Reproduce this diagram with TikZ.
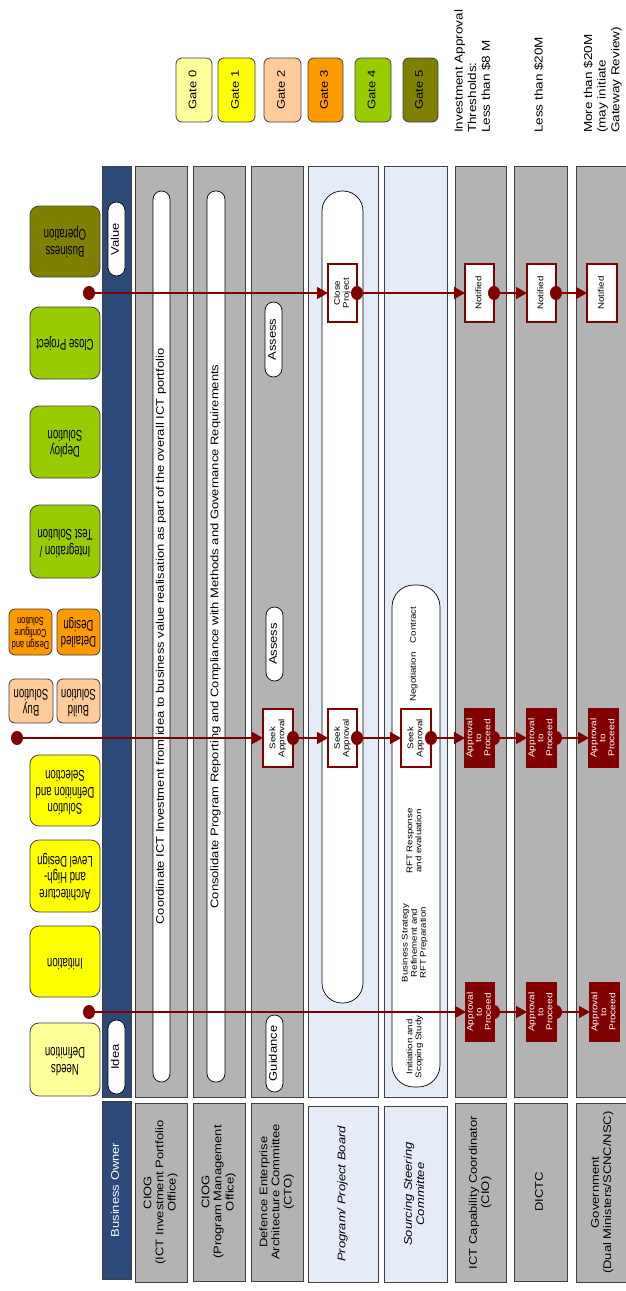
\documentclass[tikz,border=0pt]{standalone}
\usepackage{fontspec}
\setmainfont{Liberation Sans}
\usepackage{graphicx}
\usetikzlibrary{arrows.meta}

\definecolor{lanegray}{HTML}{B3B3B3}
\definecolor{lanelight}{HTML}{E6ECF7}
\definecolor{ownerblue}{HTML}{2B4A7A}
\definecolor{appred}{HTML}{800000}
\definecolor{gatezero}{HTML}{FFFF99}
\definecolor{gateone}{HTML}{FFFF00}
\definecolor{gatetwo}{HTML}{FFCC99}
\definecolor{gatethree}{HTML}{FF9900}
\definecolor{gatefour}{HTML}{99CC00}
\definecolor{gatefive}{HTML}{808000}

\pgfdeclarelayer{base}
\pgfdeclarelayer{flowlayer}
\pgfdeclarelayer{front}
\pgfsetlayers{base,flowlayer,main,front}

% text turned to read upwards, slightly condensed across its lines
\newcommand\up[1]{\rotatebox{90}{\scalebox{1}[0.85]{\begin{tabular}{@{}c@{}}#1\end{tabular}}}}
\newcommand\upl[1]{\rotatebox{90}{\scalebox{1}[0.85]{\begin{tabular}{@{}l@{}}#1\end{tabular}}}}
% text turned upside down, condensed along its lines
\newcommand\flip[1]{\rotatebox{180}{\scalebox{0.62}[1]{\begin{tabular}{@{}c@{}}#1\end{tabular}}}}
\newcommand\flipsmall[1]{\rotatebox{180}{\scalebox{0.64}[1]{\begin{tabular}{@{}c@{}}#1\end{tabular}}}}
% box given by style, name, left, right, top and bottom edges, text
\newcommand\edgebox[7]{\node[#1, minimum width={(#4)-(#3)}, minimum height={(#6)-(#5)}] (#2) at ({((#3)+(#4))/2},{((#5)+(#6))/2}) {#7};}

\tikzset{
  lane/.style={draw=black!75, line width=0.8pt, inner sep=0pt, outer sep=0pt},
  graylane/.style={lane, fill=lanegray},
  lightlane/.style={lane, fill=lanelight},
  ownerlane/.style={lane, fill=ownerblue},
  headtext/.style={font=\fontsize{13}{14.3}\selectfont},
  italichead/.style={font=\fontsize{13}{14.3}\selectfont\itshape},
  gatebox/.style={draw=black!75, line width=0.8pt, rounded corners=6pt, inner sep=0pt, font=\fontsize{13}{14}\selectfont},
  phasebox/.style={draw=black!75, line width=0.8pt, rounded corners=9pt, inner sep=0pt, font=\fontsize{15.5}{16.5}\selectfont},
  smallphase/.style={phasebox, rounded corners=6pt},
  pill/.style={draw=black, fill=white, line width=0.7pt, inner sep=0pt, rounded corners=8.5pt, font=\fontsize{13}{14}\selectfont},
  widepill/.style={pill, rounded corners=20pt},
  openbox/.style={draw=appred, fill=white, line width=1.3pt, inner sep=0pt, outer sep=0pt, font=\fontsize{9.7}{10.7}\selectfont},
  passbox/.style={draw=appred, fill=appred, text=white, line width=1.3pt, inner sep=0pt, outer sep=0pt, font=\fontsize{10}{10.6}\selectfont},
  flow/.style={draw=appred, line width=1.4pt, -{Triangle[length=11pt,width=12pt]}},
  knob/.style={fill=appred},
  note/.style={inner sep=0pt, font=\fontsize{9.7}{10.7}\selectfont},
  threshold/.style={anchor=south, inner sep=0pt, font=\fontsize{13.5}{16}\selectfont},
}

\begin{document}
\begin{tikzpicture}[x=1pt,y=-1pt]
\useasboundingbox (0,0) rectangle (625,1291);
\clip (0,0) rectangle (625,1291);

\begin{pgfonlayer}{base}
\fill[white] (0,0) rectangle (625,1291);

% gate legend
\edgebox{gatebox, fill=gatezero}{gate0}{176}{212}{58}{122}{\up{Gate 0}}
\edgebox{gatebox, fill=gateone}{gate1}{218}{255}{58}{122}{\up{Gate 1}}
\edgebox{gatebox, fill=gatetwo}{gate2}{264}{301}{58}{122}{\up{Gate 2}}
\edgebox{gatebox, fill=gatethree}{gate3}{308}{343}{58}{122}{\up{Gate 3}}
\edgebox{gatebox, fill=gatefour}{gate4}{355}{391}{58}{122}{\up{Gate 4}}
\edgebox{gatebox, fill=gatefive}{gate5}{403}{438}{58}{122}{\up{Gate 5}}

% approval thresholds
\node[threshold] (thrlow) at (473.5,133) {\upl{Investment Approval\\Thresholds:\\Less than \$8 M}};
\node[threshold] (thrmid) at (540,133) {\upl{Less than \$20M}};
\node[threshold] (thrhigh) at (603,133) {\upl{More than \$20M\\(may initiate\\Gateway Review)}};

% lifecycle phases
\edgebox{phasebox, fill=gatezero}{needs}{30}{100}{1023}{1096}{\flip{Needs\\Definition}}
\edgebox{phasebox, fill=gateone}{initiation}{30}{100}{926}{997}{\flip{Initiation}}
\edgebox{phasebox, fill=gateone}{archdesign}{30}{100}{840}{912}{\flip{Architecture\\and High-\\Level Design}}
\edgebox{phasebox, fill=gateone}{soldef}{30}{100}{755}{826}{\flip{Solution\\Definition and\\Selection}}
\edgebox{smallphase, fill=gatetwo}{buy}{9}{53}{679}{723}{\flip{Buy\\Solution}}
\edgebox{smallphase, fill=gatetwo}{build}{57}{100}{679}{723}{\flip{Build\\Solution}}
\edgebox{smallphase, fill=gatethree, font=\fontsize{11.5}{11.5}\selectfont}{configure}{9}{52}{609}{655}{\flipsmall{Design and\\Configure\\Solution}}
\edgebox{smallphase, fill=gatethree}{detailed}{57}{100}{609}{655}{\flip{Detailed\\Design}}
\edgebox{phasebox, fill=gatefour}{integration}{30}{100}{505}{578}{\flip{Integration /\\Test Solution}}
\edgebox{phasebox, fill=gatefour}{deploy}{30}{100}{406}{478}{\flip{Deploy\\Solution}}
\edgebox{phasebox, fill=gatefour}{closeproj}{30}{100}{307}{379}{\flip{Close Project}}
\edgebox{phasebox, fill=gatefive}{busop}{30}{100}{206}{277}{\flip{Business\\Operation}}

% swim lanes and their headers
\edgebox{ownerlane}{ownerbody}{102}{131}{166}{1097}{}
\edgebox{ownerlane, text=white, headtext}{ownerhead}{102}{131}{1101}{1279}{\up{Business Owner}}
\edgebox{graylane}{portfoliobody}{135}{187}{166}{1097}{}
\edgebox{graylane, headtext}{portfoliohead}{135}{187}{1103}{1282}{\up{CIOG\\(ICT Investment Portfolio\\Office)}}
\edgebox{graylane}{pmobody}{193}{245}{166}{1097}{}
\edgebox{graylane, headtext}{pmohead}{193}{245}{1103}{1281}{\up{CIOG\\(Program Management\\Office)}}
\edgebox{graylane}{archbody}{251}{303}{166}{1097}{}
\edgebox{graylane, headtext}{archhead}{251}{303}{1103}{1281}{\up{Defence Enterprise\\Architecture Committee\\(CTO)}}
\edgebox{lightlane}{boardbody}{308}{378}{166}{1097}{}
\edgebox{lightlane, italichead}{boardhead}{308}{378}{1106}{1282}{\up{Program/ Project Board}}
\edgebox{lightlane}{sourcebody}{384}{447}{166}{1097}{}
\edgebox{lightlane, italichead}{sourcehead}{384}{447}{1106}{1282}{\up{Sourcing Steering\\Committee}}
\edgebox{graylane}{capbody}{455}{506}{166}{1097}{}
\edgebox{graylane, headtext}{caphead}{455}{506}{1103}{1282}{\up{ICT Capability Coordinator\\(CIO)}}
\edgebox{graylane}{dictcbody}{514}{567}{166}{1097}{}
\edgebox{graylane, headtext}{dictchead}{514}{567}{1103}{1281}{\up{DICTC}}
\edgebox{graylane}{govbody}{576}{629}{166}{1097}{}
\edgebox{graylane, headtext}{govhead}{576}{629}{1103}{1282}{\up{Government\\(Dual Ministers/SCNC/NSC)}}

% activities inside the lanes
\edgebox{pill}{idea}{108}{125}{1020}{1094}{\up{Idea}}
\edgebox{pill}{value}{108}{125}{202}{276}{\up{Value}}
\edgebox{pill}{coordinate}{153}{170}{191}{1082}{\up{Coordinate ICT Investment from idea to business value realisation as part of the overall ICT portfolio}}
\edgebox{pill}{consolidate}{207}{225}{191}{1082}{\up{Consolidate Program Reporting and Compliance with Methods and Governance Requirements}}
\edgebox{pill}{guidance}{266}{283}{1015}{1092}{\up{Guidance}}
\edgebox{pill}{assessmid}{266}{283}{607}{681}{\up{Assess}}
\edgebox{pill}{assesstop}{265}{282}{302}{377}{\up{Assess}}
\edgebox{widepill}{boardpill}{322}{363}{191}{1003}{}
\edgebox{widepill, rounded corners=22pt}{sourcepill}{392}{440}{585}{1087}{}

\node[note] (scoping) at (415,1047) {\up{Initiation and\\Scoping Study}};
\node[note] (strategy) at (415,943) {\up{Business Strategy\\Refinement and\\RFT Preparation}};
\node[note] (response) at (415,841) {\up{RFT Response\\and evaluation}};
\node[note] (negotiation) at (414,677) {\up{Negotiation}};
\node[note] (contract) at (414,625) {\up{Contract}};
\end{pgfonlayer}

% decision points
\edgebox{openbox}{boardclose}{328}{357}{264}{322}{\up{Close\\Project}}
\edgebox{openbox}{capnote}{465}{494}{264}{322}{\up{Notified}}
\edgebox{openbox}{dictcnote}{527}{556}{264}{322}{\up{Notified}}
\edgebox{openbox}{govnote}{587}{617}{264}{322}{\up{Notified}}

\edgebox{openbox}{archseek}{263}{293}{709}{767}{\up{Seek\\Approval}}
\edgebox{openbox}{boardseek}{328}{357}{709}{767}{\up{Seek\\Approval}}
\edgebox{openbox}{sourceseek}{401}{431}{709}{767}{\up{Seek\\Approval}}
\edgebox{passbox}{capmid}{465}{494}{709}{767}{\up{Approval\\to\\Proceed}}
\edgebox{passbox}{dictcmid}{527}{556}{709}{767}{\up{Approval\\to\\Proceed}}
\edgebox{passbox}{govmid}{589}{618}{709}{767}{\up{Approval\\to\\Proceed}}

\edgebox{passbox}{caplow}{466}{494}{983}{1041}{\up{Approval\\to\\Proceed}}
\edgebox{passbox}{dictclow}{527}{556}{983}{1041}{\up{Approval\\to\\Proceed}}
\edgebox{passbox}{govlow}{590}{619}{983}{1041}{\up{Approval\\to\\Proceed}}

% approval flows
\coordinate (topstart) at (89,293);
\coordinate (midstart) at (17,738);
\coordinate (lowstart) at (89,1012);

\begin{pgfonlayer}{flowlayer}
\draw[flow] (topstart) -- (boardclose.west);
\draw[flow] (boardclose.east) -- (capnote.west);
\draw[flow] (capnote.east) -- (dictcnote.west);
\draw[flow] (dictcnote.east) -- (govnote.west);

\draw[flow] (midstart) -- (archseek.west);
\draw[flow] (archseek.east) -- (boardseek.west);
\draw[flow] (boardseek.east) -- (sourceseek.west);
\draw[flow] (sourceseek.east) -- (capmid.west);
\draw[flow] (capmid.east) -- (dictcmid.west);
\draw[flow] (dictcmid.east) -- (govmid.west);

\draw[flow] (lowstart) -- (caplow.west);
\draw[flow] (caplow.east) -- (dictclow.west);
\draw[flow] (dictclow.east) -- (govlow.west);

% knobs on filled boxes sit behind them, so only the outer half shows
\foreach \p in {capmid.east, dictcmid.east, caplow.east, dictclow.east}
  \fill[knob] (\p) circle[x radius=6pt, y radius=7pt];
\end{pgfonlayer}

\begin{pgfonlayer}{front}
\foreach \p in {topstart, boardclose.east, capnote.east, dictcnote.east,
                midstart, archseek.east, boardseek.east, sourceseek.east,
                lowstart}
  \fill[knob] (\p) circle[x radius=6pt, y radius=7pt];
\end{pgfonlayer}
\end{tikzpicture}
\end{document}
